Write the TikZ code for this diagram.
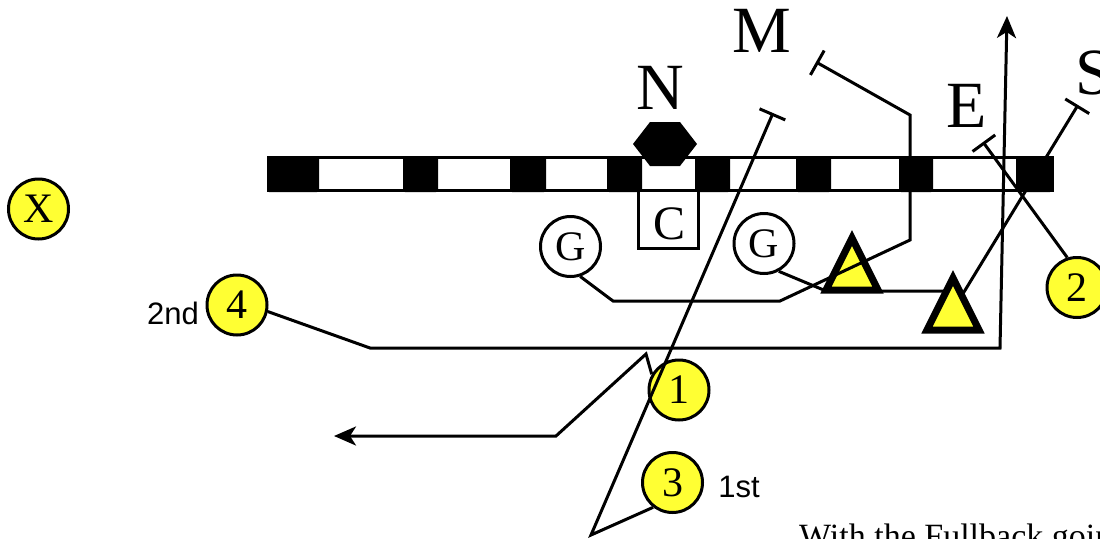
\documentclass[tikz,border=0pt]{standalone}
\usepackage{fontspec}
\setmainfont{Liberation Serif}
\newfontfamily\notefont{Liberation Sans}
\usetikzlibrary{arrows.meta}
\definecolor{tagyellow}{HTML}{FFFF33}

\begin{document}
\begin{tikzpicture}[x=1pt,y=-1pt,
    player/.style={circle,draw,line width=3pt,minimum size=60pt,inner sep=0pt,
      font=\fontsize{42}{42}\selectfont},
    back/.style={player,fill=tagyellow},
    guard/.style={player,fill=white},
    tackle/.style={draw,line width=7pt,fill=tagyellow},
    route/.style={line width=3pt},
    blockline/.style={route,-{Bar[width=28pt]}},
    runline/.style={route,-{Stealth[length=22pt,width=19pt,inset=6pt]}},
    letter/.style={font=\fontsize{66}{66}\selectfont,inner sep=0pt,anchor=base},
    note/.style={font=\notefont\fontsize{31}{31}\selectfont,inner sep=0pt,anchor=base}
  ]
  \useasboundingbox (0,0) rectangle (1100,538);
  % line of scrimmage
  \draw[line width=3pt,fill=white] (268,157) rectangle (1052,190);
  \foreach \xa/\xb in {267/319,403/438,510/546,607/642,695/730,796/831,899/933,1016/1052}
    \fill[rounded corners=2pt] (\xa,156) rectangle (\xb,192);
  \node[draw,line width=3pt,fill=white,minimum width=60pt,minimum height=58pt,
    inner sep=0pt] (cbox) at (668.5,219) {};
  \node[font=\fontsize{48}{48}\selectfont,inner sep=0pt] (clbl) at (669,224) {C};
  \fill (633,144) -- (650,122) -- (680,122) -- (697,144) -- (680,166) -- (650,166) -- cycle;
  % players
  \node[back] (x) at (38.5,209) {X};
  \node[back] (c4) at (237,305) {4};
  \node[back] (c1) at (679,390) {1};
  \node[back] (c3) at (672.5,482.5) {3};
  \node[back] (c2) at (1077,287.5) {2};
  \node[guard] (g1) at (570.5,246.5) {G};
  \node[guard] (g2) at (764,243.5) {G};
  \filldraw[tackle] (852,238) -- (878,290) -- (826,290) -- cycle;
  \coordinate (t1) at (826,291);
  \coordinate (t2) at (953,291);
  \coordinate (t2c) at (953,310);
  \coordinate (mend) at (816,62);
  \coordinate (eend) at (983,142);
  \coordinate (send) at (1078,105);
  \coordinate (lend) at (773,113);
  \coordinate (aend) at (1007,16);
  \coordinate (tipl) at (334,436);
  % routes
  \draw[blockline] (g1.-72) -- (613,301) -- (780,301) -- (910,240) -- (910,115) -- (mend);
  \draw[route] (g2.-62) -- (t1) -- (t2);
  \draw[blockline] (t2c) -- (send);
  \draw[blockline] (c2.108) -- (eend);
  \draw[blockline] (c3.-128) -- (591,535) -- (lend);
  \draw[runline] (c4.-12) -- (370,348) -- (1000,348) -- (aend);
  \draw[runline] (c1.150) -- (646,354) -- (556,436) -- (tipl);
  \filldraw[tackle] (953,278) -- (979,330) -- (927,330) -- cycle;
  % labels
  \node[letter] (nlbl) at (660.5,109) {N};
  \node[letter] (mlbl) at (761.5,52) {M};
  \node[letter] (elbl) at (966.5,127) {E};
  \node[letter] (slbl) at (1094,94) {S};
  \node[note] (sec) at (173,324) {2nd};
  \node[note] (fst) at (739,497) {1st};
  \node[font=\fontsize{34}{34}\selectfont,inner sep=0pt,anchor=base west]
    (caption) at (799,547) {With the Fullback going};
\end{tikzpicture}
\end{document}
